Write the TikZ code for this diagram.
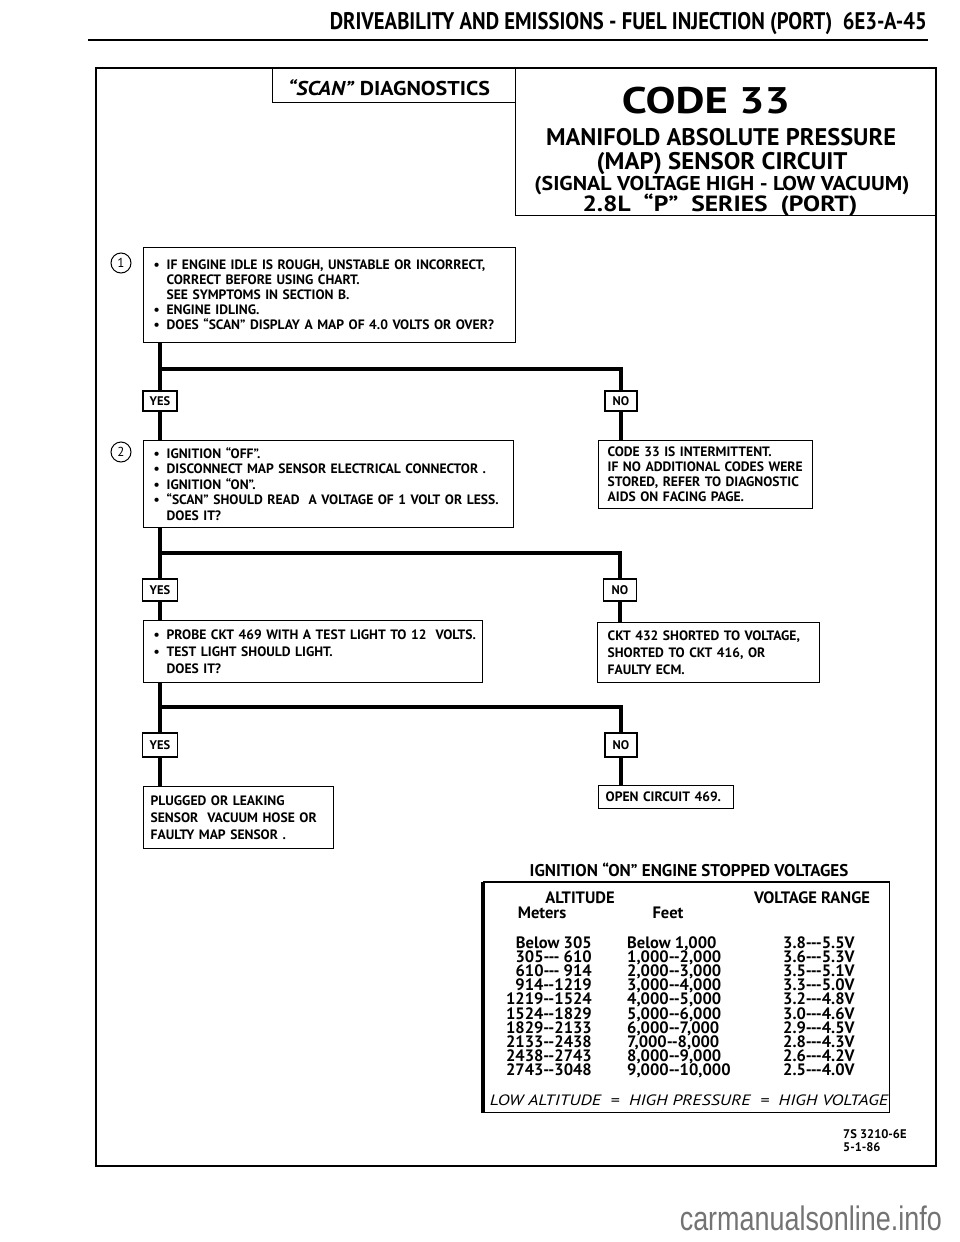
\documentclass[tikz,border=0pt]{standalone}
\usepackage{fontspec}
\usepackage{graphicx}
\setmainfont{PT Sans}
\newfontfamily\cond{PT Sans}[FakeStretch=0.86]
\newfontfamily\wmfont{Liberation Sans}
\newcommand\fitw[2]{\resizebox{#1}{\height}{#2}}
\newcommand\bul{\makebox[13pt][l]{\textbullet}}
\newcommand\ind{\hspace*{13pt}}
\newcommand\lne[1]{\mbox{#1}}
\begin{document}
\begin{tikzpicture}[x=1pt,y=-1pt,
  bx/.style={draw, line width=1.3pt, anchor=north west, inner ysep=0pt, align=left,
    font=\bfseries\fontsize{13.6}{15}\selectfont},
  lbl/.style={draw, line width=1.3pt, inner sep=0pt, font=\bfseries\fontsize{12.5}{13}\selectfont},
  conn/.style={line width=3.5pt, line join=miter},
  num/.style={draw, circle, line width=1pt, minimum size=20pt, inner sep=0pt, font=\fontsize{13}{13}\selectfont},
  ttl/.style={inner sep=0pt, anchor=base, font=\cond\bfseries},
  tab/.style={inner sep=0pt, font=\bfseries\fontsize{16.5}{16.5}\selectfont}
]
\useasboundingbox (0,0) rectangle (960,1242);
\fill[white] (0,0) rectangle (960,1242);

% page header
\node[ttl, anchor=base east, font=\cond\bfseries\fontsize{24}{24}\selectfont] (hdr) at (927,29)
  {\fitw{597pt}{DRIVEABILITY AND EMISSIONS - FUEL INJECTION (PORT)\ \ 6E3-A-45}};
\draw[line width=2pt] (88,40) -- (928,40);

% frame
\draw[line width=2.2pt] (96,68) rectangle (936,1166);

% title boxes
\node[draw, line width=1.3pt, anchor=north west, minimum width=243pt, minimum height=34pt, inner sep=0pt] (scanbox) at (272,68) {};
\node[ttl, font=\cond\bfseries\fontsize{20}{20}\selectfont] (scan) at (389,95) {\fitw{202pt}{\textit{“SCAN”} DIAGNOSTICS}};
\node[draw, line width=1.3pt, anchor=north west, minimum width=420pt, minimum height=147pt, inner sep=0pt] (codebox) at (515,68) {};
\node[ttl, font=\cond\bfseries\fontsize{37}{37}\selectfont] (c33) at (706,113) {\fitw{168pt}{CODE 33}};
\node[ttl, font=\cond\bfseries\fontsize{24}{24}\selectfont] (t1) at (721,145) {\fitw{350pt}{MANIFOLD ABSOLUTE PRESSURE}};
\node[ttl, font=\cond\bfseries\fontsize{24}{24}\selectfont] (t2) at (722,169) {\fitw{251pt}{(MAP) SENSOR CIRCUIT}};
\node[ttl, font=\cond\bfseries\fontsize{20}{20}\selectfont] (t3) at (722,190) {\fitw{375pt}{(SIGNAL VOLTAGE HIGH - LOW VACUUM)}};
\node[ttl, font=\cond\bfseries\fontsize{22}{22}\selectfont] (t4) at (720,211) {\fitw{275pt}{2.8L\ \ “P”\ \ SERIES\ \ (PORT)}};

% step 1
\node[num] (n1) at (121,263) {1};
\node[bx, minimum width=372pt, minimum height=95pt, text width=352pt, inner xsep=10pt] (box1) at (143,247)
 {\lne{\bul IF ENGINE IDLE IS ROUGH, UNSTABLE OR INCORRECT,}\\
  \lne{\ind CORRECT BEFORE USING CHART.}\\
  \lne{\ind SEE SYMPTOMS IN SECTION B.}\\
  \lne{\bul ENGINE IDLING.}\\
  \lne{\bul DOES “SCAN” DISPLAY A MAP OF 4.0 VOLTS OR OVER?}};

\node[lbl, minimum width=34pt, minimum height=20pt] (yes1) at (160,401) {YES};
\node[lbl, minimum width=32pt, minimum height=20pt] (no1) at (621,401) {NO};

% step 2
\node[num] (n2) at (121,452) {2};
\node[bx, minimum width=370pt, minimum height=87pt, text width=350pt, inner xsep=10pt,
  font=\bfseries\fontsize{13.6}{15.5}\selectfont] (box2) at (143,440)
 {\lne{\bul IGNITION “OFF”.}\\
  \lne{\bul DISCONNECT MAP SENSOR ELECTRICAL CONNECTOR .}\\
  \lne{\bul IGNITION “ON”.}\\
  \lne{\bul “SCAN” SHOULD READ\ \ A VOLTAGE OF 1 VOLT OR LESS.}\\
  \lne{\ind DOES IT?}};
\node[bx, minimum width=214pt, minimum height=68pt, text width=196pt, inner xsep=9pt] (res1) at (598,440)
 {\lne{CODE 33 IS INTERMITTENT.}\\
  \lne{IF NO ADDITIONAL CODES WERE}\\
  \lne{STORED, REFER TO DIAGNOSTIC}\\
  \lne{AIDS ON FACING PAGE.}};

\node[lbl, minimum width=35pt, minimum height=22pt] (yes2) at (160,590) {YES};
\node[lbl, minimum width=33pt, minimum height=22pt] (no2) at (620,590) {NO};

% step 3
\node[bx, minimum width=339pt, minimum height=62pt, text width=319pt, inner xsep=10pt,
  font=\bfseries\fontsize{13.6}{17}\selectfont] (box3) at (143,620)
 {\lne{\bul PROBE CKT 469 WITH A TEST LIGHT TO 12\ \ VOLTS.}\\
  \lne{\bul TEST LIGHT SHOULD LIGHT.}\\
  \lne{\ind DOES IT?}};
\node[bx, minimum width=222pt, minimum height=60pt, text width=202pt, inner xsep=10pt,
  font=\bfseries\fontsize{13.6}{17}\selectfont] (res2) at (597,622)
 {\lne{CKT 432 SHORTED TO VOLTAGE,}\\
  \lne{SHORTED TO CKT 416, OR}\\
  \lne{FAULTY ECM.}};

\node[lbl, minimum width=35pt, minimum height=24pt] (yes3) at (160,745) {YES};
\node[lbl, minimum width=32pt, minimum height=24pt] (no3) at (621,745) {NO};

% step 4
\node[bx, minimum width=190pt, minimum height=62pt, text width=176pt, inner xsep=7pt,
  font=\bfseries\fontsize{13.6}{17}\selectfont] (box4) at (143,786)
 {\lne{PLUGGED OR LEAKING}\\
  \lne{SENSOR\ \ VACUUM HOSE OR}\\
  \lne{FAULTY MAP SENSOR .}};
\node[bx, minimum width=135pt, minimum height=23pt, text width=121pt, inner xsep=7pt] (res3) at (598,785)
 {\lne{OPEN CIRCUIT 469.}};

% connectors
\coordinate (b1) at (160,369);
\coordinate (b2) at (160,553);
\coordinate (b3) at (160,707);
\draw[conn] (yes1 |- box1.south) -- (yes1.north);
\draw[conn] (b1) -| (no1.north);
\draw[conn] (yes1.south) -- (yes1 |- box2.north);
\draw[conn] (no1.south) -- (no1 |- res1.north);
\draw[conn] (yes2 |- box2.south) -- (yes2.north);
\draw[conn] (b2) -| (no2.north);
\draw[conn] (yes2.south) -- (yes2 |- box3.north);
\draw[conn] (no2.south) -- (no2 |- res2.north);
\draw[conn] (yes3 |- box3.south) -- (yes3.north);
\draw[conn] (b3) -| (no3.north);
\draw[conn] (yes3.south) -- (yes3 |- box4.north);
\draw[conn] (no3.south) -- (no3 |- res3.north);

% table
\node[ttl, font=\bfseries\fontsize{17}{17}\selectfont] (ttab) at (689,876) {IGNITION “ON” ENGINE STOPPED VOLTAGES};
\node[draw, line width=1.4pt, anchor=north west, minimum width=406pt, minimum height=230pt, inner sep=0pt] (tbl) at (483,882) {};
\draw[line width=3.5pt] (tbl.north west) -- (tbl.south west);
\draw[line width=2.4pt] (tbl.north west) -- (tbl.north east);
\node[tab, anchor=base] (halt) at (580,903) {ALTITUDE};
\node[tab, anchor=base] (hvr) at (812,903) {VOLTAGE RANGE};
\node[tab, anchor=base] (hm) at (542,918) {Meters};
\node[tab, anchor=base] (hf) at (668,918) {Feet};
\foreach \m/\f/\v [count=\i from 0] in {
  {Below 305}/{Below 1,000}/{3.8-{}-{}-5.5V},
  {305-{}-{}- 610}/{1,000-{}-2,000}/{3.6-{}-{}-5.3V},
  {610-{}-{}- 914}/{2,000-{}-3,000}/{3.5-{}-{}-5.1V},
  {914-{}-1219}/{3,000-{}-4,000}/{3.3-{}-{}-5.0V},
  {1219-{}-1524}/{4,000-{}-5,000}/{3.2-{}-{}-4.8V},
  {1524-{}-1829}/{5,000-{}-6,000}/{3.0-{}-{}-4.6V},
  {1829-{}-2133}/{6,000-{}-7,000}/{2.9-{}-{}-4.5V},
  {2133-{}-2438}/{7,000-{}-8,000}/{2.8-{}-{}-4.3V},
  {2438-{}-2743}/{8,000-{}-9,000}/{2.6-{}-{}-4.2V},
  {2743-{}-3048}/{9,000-{}-10,000}/{2.5-{}-{}-4.0V}}{
  \node[tab, anchor=base east] (m\i) at (592,{948+14.2*\i}) {\m};
  \node[tab, anchor=base west] (f\i) at (627,{948+14.2*\i}) {\f};
  \node[tab, anchor=base west] (v\i) at (783,{948+14.2*\i}) {\v};
}
\node[ttl, font=\itshape\fontsize{15}{15}\selectfont] (foot) at (689,1105) {\fitw{398pt}{LOW ALTITUDE\ \ =\ \ HIGH PRESSURE\ \ =\ \ HIGH VOLTAGE}};

% reference
\node[inner sep=0pt, anchor=north west, align=left, font=\bfseries\fontsize{12.5}{13}\selectfont] (ref) at (843,1129) {7S 3210-6E\\5-1-86};

% watermark
\node[ttl, anchor=base east, text=black!55, font=\wmfont\fontsize{34}{34}\selectfont] (wm) at (942,1230) {\fitw{262pt}{carmanualsonline.info}};
\end{tikzpicture}
\end{document}
